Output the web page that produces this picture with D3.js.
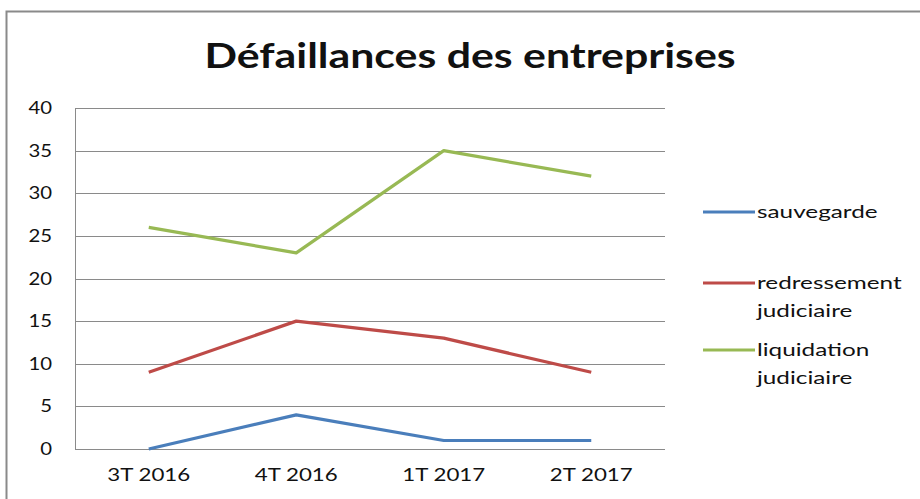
<!DOCTYPE html>
<html>
<head>
<meta charset="utf-8">
<script src="https://cdn.jsdelivr.net/npm/d3@7"></script>
<style>
  body { margin: 0; background: #fff; }
  text { font-family: Lato, "Open Sans", sans-serif; fill: #111; }
</style>
</head>
<body>
<div id="chart"></div>
<script>
const categories = ['3T 2016', '4T 2016', '1T 2017', '2T 2017'];
const seriesNames = ['sauvegarde', 'redressement judiciaire', 'liquidation judiciaire'];
const sauvegarde = [0, 4, 1, 1];
const redressement = [9, 15, 13, 9];
const liquidation = [26, 23, 35, 32];
const yTicks = [0, 5, 10, 15, 20, 25, 30, 35, 40];

const colors = ['#4A7EBB', '#BE4B48', '#98B954'];
const series = [sauvegarde, redressement, liquidation];

const width = 920, height = 499;
const plot = { left: 75, right: 665, top: 108, bottom: 449 };

const svg = d3.select('#chart').append('svg')
    .attr('width', width)
    .attr('height', height);

// outer chart frame
svg.append('rect')
    .attr('x', 6.5).attr('y', 11.5)
    .attr('width', 940).attr('height', 520)
    .attr('fill', 'none')
    .attr('stroke', '#8a8a8a')
    .attr('stroke-width', 2);

const x = d3.scalePoint()
    .domain(categories)
    .range([plot.left, plot.right])
    .padding(0.5);

const y = d3.scaleLinear()
    .domain([0, 40])
    .range([plot.bottom, plot.top]);

// source text is horizontally stretched, so scale x on each label
function stretchedText(sel, px, py, anchor, sx) {
    sel.attr('text-anchor', anchor)
        .attr('transform', 'translate(' + px + ',' + py + ') scale(' + sx + ',1)');
    return sel;
}

// gridlines
svg.append('g')
    .selectAll('line')
    .data(yTicks)
    .enter()
    .append('line')
    .attr('x1', plot.left).attr('x2', plot.right)
    .attr('y1', d => Math.round(y(d)) + 0.5)
    .attr('y2', d => Math.round(y(d)) + 0.5)
    .attr('stroke', '#8a8a8a')
    .attr('stroke-width', 1);

// vertical axis line
svg.append('line')
    .attr('x1', plot.left + 0.5).attr('x2', plot.left + 0.5)
    .attr('y1', plot.top).attr('y2', plot.bottom)
    .attr('stroke', '#8a8a8a');

// y tick labels
svg.append('g')
    .selectAll('text')
    .data(yTicks)
    .enter()
    .append('text')
    .text(d => d)
    .style('font-size', '18px')
    .each(function(d) {
        stretchedText(d3.select(this), 52, y(d) + 6, 'end', 1.13);
    });

// x labels
svg.append('g')
    .selectAll('text')
    .data(categories)
    .enter()
    .append('text')
    .text(d => d)
    .style('font-size', '18px')
    .each(function(d) {
        stretchedText(d3.select(this), x(d), 481, 'middle', 1.24);
    });

// lines
const line = d3.line()
    .x((d, i) => x(categories[i]))
    .y(d => y(d));

svg.append('g')
    .selectAll('path')
    .data(series)
    .enter()
    .append('path')
    .attr('d', line)
    .attr('fill', 'none')
    .attr('stroke', (d, i) => colors[i])
    .attr('stroke-width', 3.2)
    .attr('stroke-linejoin', 'round');

// title
svg.append('text')
    .text('Défaillances des entreprises')
    .style('font-size', '34px')
    .style('font-weight', 'bold')
    .call(stretchedText, 470, 68, 'middle', 1.26);

// legend
const legendY = [212, 283, 350];
const legend = svg.append('g')
    .selectAll('g')
    .data(seriesNames)
    .enter()
    .append('g');

legend.append('line')
    .attr('x1', 703).attr('x2', 755)
    .attr('y1', (d, i) => legendY[i])
    .attr('y2', (d, i) => legendY[i])
    .attr('stroke', (d, i) => colors[i])
    .attr('stroke-width', 3.2);

legend.each(function(d, i) {
    const words = d.split(' ');
    words.forEach((w, j) => {
        d3.select(this).append('text')
            .text(w)
            .style('font-size', '18px')
            .call(stretchedText, 757, legendY[i] + 6 + j * 28, 'start', 1.35);
    });
});
</script>
</body>
</html>
